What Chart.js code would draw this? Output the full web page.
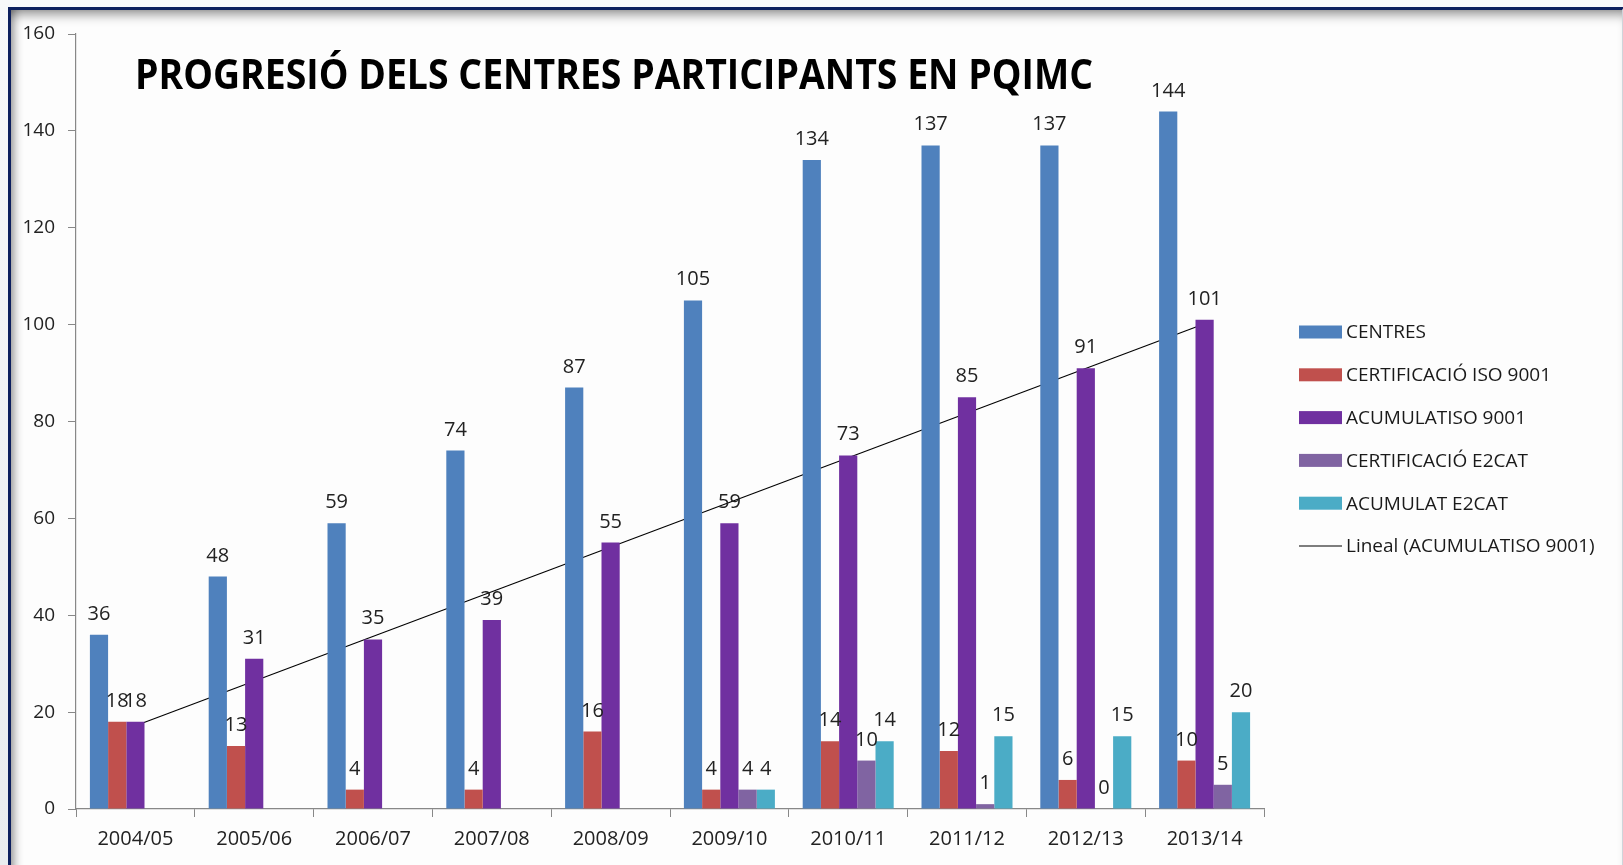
<!DOCTYPE html>
<html lang="ca">
<head>
<meta charset="utf-8">
<title>Progressió dels centres participants en PQIMC</title>
<script src="https://cdn.jsdelivr.net/npm/chart.js@4"></script>
<style>
    html, body { margin: 0; padding: 0; width: 1623px; height: 865px; overflow: hidden; }
    body { background: linear-gradient(180deg, #f7f8fa, #e9ecef); position: relative; }
    .marc {
        position: absolute; left: 8px; top: 7px; width: 1611px; height: 900px;
        border-top: 3px solid #0c1f5e; border-left: 3px solid #0c1f5e; border-right: 2px solid #cfd4da;
        background: #fdfdfd;
        box-shadow: inset 0 12px 12px -8px rgba(0,0,0,0.45), inset 10px 0 10px -7px rgba(0,0,0,0.4);
    }
    #grafic { position: absolute; left: 0; top: 0; }
</style>
</head>
<body>
<div class="marc"></div>
<canvas id="grafic" width="1623" height="865"></canvas>
<script>
// --- DADES ---
const cursos = ['2004/05', '2005/06', '2006/07', '2007/08', '2008/09', '2009/10', '2010/11', '2011/12', '2012/13', '2013/14'];
const centres = [36, 48, 59, 74, 87, 105, 134, 137, 137, 144];
const certIso = [18, 13, 4, 4, 16, 4, 14, 12, 6, 10];
const acumIso = [18, 31, 35, 39, 55, 59, 73, 85, 91, 101];
const certE2cat = [null, null, null, null, null, 4, 10, 1, 0, 5];
const acumE2cat = [null, null, null, null, null, 4, 14, 15, 15, 20];
// trend line: only its two ends
const lineal = [17.2, null, null, null, null, null, null, null, null, 100.2];
const ticksY = [0, 20, 40, 60, 80, 100, 120, 140, 160];

const titol = 'PROGRESIÓ DELS CENTRES PARTICIPANTS EN PQIMC';
const FONT = '"Open Sans", "DejaVu Sans", sans-serif';

// --- PLUGINS ---
const etiquetes = {
    id: 'etiquetes',
    afterDatasetsDraw(chart) {
        const ctx = chart.ctx;
        ctx.save();
        ctx.font = '20px ' + FONT;
        ctx.fillStyle = '#222';
        ctx.textAlign = 'center';
        ctx.textBaseline = 'alphabetic';
        chart.data.datasets.forEach((ds, i) => {
            if (ds.type === 'line') return;
            chart.getDatasetMeta(i).data.forEach((el, j) => {
                if (ds.data[j] === null) return;
                ctx.fillText(String(ds.data[j]), el.x, el.y - 15);
            });
        });
        ctx.restore();
    }
};

const titolPlugin = {
    id: 'titolPlugin',
    afterDraw(chart) {
        const ctx = chart.ctx;
        ctx.save();
        ctx.font = 'bold 41px ' + FONT;
        ctx.fillStyle = '#000';
        ctx.textBaseline = 'alphabetic';
        const w = ctx.measureText(titol).width;
        const sx = 958 / w;
        ctx.translate(135, 89);
        ctx.scale(sx, 1);
        ctx.fillText(titol, 0, 0);
        ctx.restore();
    }
};

const llegenda = {
    id: 'llegenda',
    afterDraw(chart) {
        const ctx = chart.ctx;
        ctx.save();
        ctx.font = '19px ' + FONT;
        ctx.textBaseline = 'middle';
        chart.data.datasets.forEach((ds, i) => {
            const y = 332 + i * 42.8;
            if (ds.type === 'line') {
                ctx.strokeStyle = '#000';
                ctx.lineWidth = 1.2;
                ctx.beginPath();
                ctx.moveTo(1299, y);
                ctx.lineTo(1342, y);
                ctx.stroke();
            } else {
                ctx.fillStyle = ds.backgroundColor;
                ctx.fillRect(1299, y - 6.5, 43, 13);
            }
            ctx.fillStyle = '#1a1a1a';
            ctx.fillText(ds.label, 1346, y + 1);
        });
        ctx.restore();
    }
};

// --- GRÀFIC ---
const ctx = document.getElementById('grafic').getContext('2d');
new Chart(ctx, {
    type: 'bar',
    data: {
        labels: cursos,
        datasets: [
            { label: 'CENTRES', data: centres, backgroundColor: '#4f81bd' },
            { label: 'CERTIFICACIÓ ISO 9001', data: certIso, backgroundColor: '#c0504d' },
            { label: 'ACUMULATISO 9001', data: acumIso, backgroundColor: '#7030a0' },
            { label: 'CERTIFICACIÓ E2CAT', data: certE2cat, backgroundColor: '#8064a2' },
            { label: 'ACUMULAT E2CAT', data: acumE2cat, backgroundColor: '#4bacc6' },
            {
                type: 'line', label: 'Lineal (ACUMULATISO 9001)', data: lineal,
                borderColor: '#000', borderWidth: 1.1, pointRadius: 0, spanGaps: true, fill: false
            }
        ]
    },
    options: {
        responsive: false,
        animation: false,
        layout: { padding: { top: 34, right: 359, left: 0, bottom: 0 } },
        datasets: { bar: { categoryPercentage: 0.766, barPercentage: 1, borderWidth: 0 } },
        plugins: { legend: { display: false }, tooltip: { enabled: false } },
        scales: {
            x: {
                grid: { drawOnChartArea: false, offset: true, tickLength: 8, color: '#888' },
                border: { color: '#888', width: 1.2 },
                ticks: { color: '#222', font: { family: FONT, size: 20 }, padding: 10, maxRotation: 0 },
                afterFit(scale) { scale.height = 56; }
            },
            y: {
                min: 0, max: 160,
                afterBuildTicks(scale) { scale.ticks = ticksY.map(v => ({ value: v })); },
                grid: { drawOnChartArea: false, tickLength: 8, color: '#888' },
                border: { color: '#888', width: 1.2 },
                ticks: { color: '#222', font: { family: FONT, size: 19 }, padding: 13 },
                afterFit(scale) { scale.width = 76; }
            }
        }
    },
    plugins: [etiquetes, titolPlugin, llegenda]
});
</script>
</body>
</html>
